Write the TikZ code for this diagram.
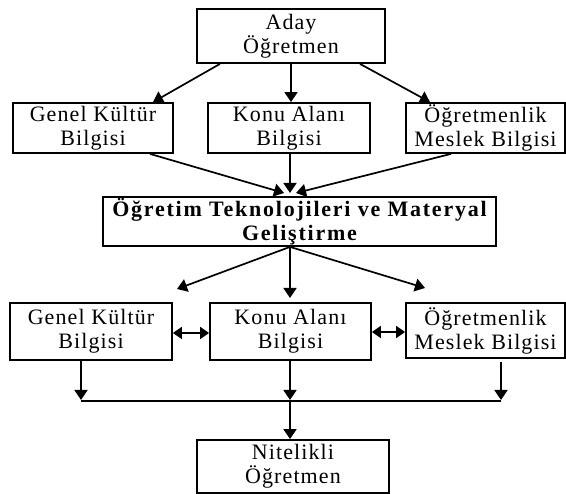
\documentclass[tikz,border=0pt]{standalone}
\usepackage{fontspec}
\setmainfont{Liberation Serif}[LetterSpace=5,BoldFeatures={LetterSpace=8}]
\usetikzlibrary{arrows.meta}

\begin{document}
\begin{tikzpicture}[x=1pt,y=-1pt,
  box/.style={draw, line width=1.8pt, align=center, inner sep=0pt,
    font=\fontsize{22}{24}\selectfont},
  arr/.style={line width=1.7pt, -{Triangle[length=10pt,width=13pt]}},
  darr/.style={line width=1.7pt,
    {Triangle[length=9pt,width=12pt]}-{Triangle[length=9pt,width=12pt]}},
  ln/.style={line width=1.7pt}]
\useasboundingbox (0,0) rectangle (566,494);

% top
\node[box, minimum width=188pt, minimum height=54pt] (aday) at (291,36) {Aday\\Öğretmen};

% first row of knowledge areas
\node[box, minimum width=160pt, minimum height=50pt] (gk1) at (93,128) {Genel Kültür\\Bilgisi};
\node[box, minimum width=162pt, minimum height=50pt] (ka1) at (289,128) {Konu Alanı\\Bilgisi};
\node[box, minimum width=159pt, minimum height=50pt] (om1) at (485.5,128) {Öğretmenlik\\Meslek Bilgisi};

% central course
\node[box, minimum width=393pt, minimum height=49pt] (tech) at (299.5,221.5)
  {\bfseries Öğretim Teknolojileri ve Materyal\\\bfseries Geliştirme};

% second row of knowledge areas
\node[box, minimum width=162pt, minimum height=57pt] (gk2) at (91,331.5) {Genel Kültür\\Bilgisi};
\node[box, minimum width=161pt, minimum height=57pt] (ka2) at (290.5,331.5) {Konu Alanı\\Bilgisi};
\node[box, minimum width=159pt, minimum height=55pt] (om2) at (485.5,330.5) {Öğretmenlik\\Meslek Bilgisi};

% result
\node[box, minimum width=192pt, minimum height=53pt] (nit) at (293,466.5) {Nitelikli\\Öğretmen};

% free ends of connectors
\coordinate (tl) at (284,193);
\coordinate (tc) at (290,193);
\coordinate (tr) at (296,193);
\coordinate (bl) at (177,289);
\coordinate (bc) at (290,298);
\coordinate (br) at (425,288);
\coordinate (hl) at (81,401);
\coordinate (hc) at (290,401);
\coordinate (hr) at (501,401);
\coordinate (rs) at (501,362);

% top to first row
\draw[arr] ([xshift=-71pt]aday.south) -- ([xshift=60pt]gk1.north);
\draw[arr] (aday.south) -- (aday.south |- ka1.north);
\draw[arr] ([xshift=69pt]aday.south) -- ([xshift=-55.5pt]om1.north);

% first row to central course
\draw[arr] ([xshift=57pt]gk1.south) -- (tl);
\draw[arr] (ka1.south -| tc) -- (tc);
\draw[arr] ([xshift=-34.5pt]om1.south) -- (tr);

% central course to second row
\draw[arr] ([xshift=-9.5pt]tech.south) -- (bl);
\draw[arr] ([xshift=-9.5pt]tech.south) -- (bc);
\draw[arr] ([xshift=-9.5pt]tech.south) -- (br);

% links within second row
\draw[darr] ([yshift=-1.5pt]gk2.east) -- ([yshift=-1.5pt]ka2.west);
\draw[darr] ([yshift=-0.5pt]ka2.east) -- ([yshift=-0.5pt]ka2.east -| om2.west);

% second row to result
\draw[arr] (gk2.south -| hl) -- ([yshift=1pt]hl);
\draw[arr] (ka2.south -| hc) -- ([yshift=1pt]hc);
\draw[arr] (rs) -- ([yshift=1pt]hr);
\draw[ln] (hl) -- (hr);
\draw[arr] (hc) -- (hc |- nit.north);
\end{tikzpicture}
\end{document}
